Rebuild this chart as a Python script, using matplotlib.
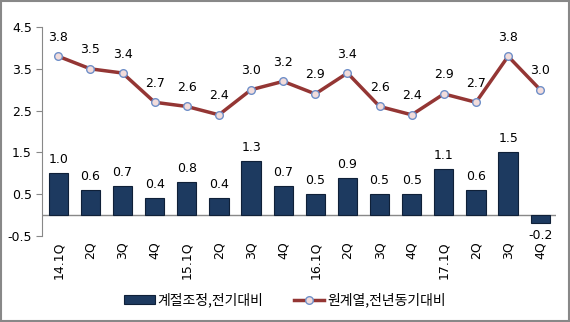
import matplotlib.pyplot as plt
import numpy as np

plt.rcParams['font.family'] = ['Noto Sans CJK KR', 'DejaVu Sans']

quarters = ['14.1Q', '2Q', '3Q', '4Q', '15.1Q', '2Q', '3Q', '4Q',
            '16.1Q', '2Q', '3Q', '4Q', '17.1Q', '2Q', '3Q', '4Q']
qoq = [1.0, 0.6, 0.7, 0.4, 0.8, 0.4, 1.3, 0.7,
       0.5, 0.9, 0.5, 0.5, 1.1, 0.6, 1.5, -0.2]
yoy = [3.8, 3.5, 3.4, 2.7, 2.6, 2.4, 3.0, 3.2,
       2.9, 3.4, 2.6, 2.4, 2.9, 2.7, 3.8, 3.0]
yticks = [-0.5, 0.5, 1.5, 2.5, 3.5, 4.5]

fig = plt.figure(figsize=(5.70, 3.22), dpi=100)
ax = fig.add_axes([0.074, 0.267, 0.902, 0.649])
x = np.arange(len(quarters))

bars = ax.bar(x, qoq, width=0.6, color='#1d3a60', edgecolor='#0f2038',
              linewidth=0.8, label='계절조정,전기대비', zorder=2)
line, = ax.plot(x, yoy, color='#943634', linewidth=2.5, marker='o', markersize=5.5,
                markerfacecolor='#f2dcdb', markeredgecolor='#6f8fc8',
                markeredgewidth=1.0, label='원계열,전년동기대비', zorder=3)

for xi, v in zip(x, qoq):
    if v >= 0:
        ax.annotate(f'{v:.1f}', (xi, v), xytext=(0, 5), textcoords='offset points',
                    ha='center', va='bottom', fontsize=9, family='DejaVu Sans')
    else:
        ax.annotate(f'{v:.1f}', (xi, v), xytext=(0, -4), textcoords='offset points',
                    ha='center', va='top', fontsize=9, family='DejaVu Sans')
for xi, v in zip(x, yoy):
    ax.annotate(f'{v:.1f}', (xi, v), xytext=(0, 9), textcoords='offset points',
                ha='center', va='bottom', fontsize=9, family='DejaVu Sans')

ax.set_xlim(-0.5, len(quarters) - 0.5)
ax.set_ylim(-0.5, 4.5)
ax.set_yticks(yticks)
ax.set_yticklabels([f'{t:.1f}' for t in yticks], fontsize=9, family='DejaVu Sans')
ax.set_xticks(x)
ax.set_xticklabels(quarters, rotation=90, fontsize=9, family='DejaVu Sans')
ax.tick_params(axis='x', length=0, pad=4)
ax.tick_params(axis='y', length=4, color='#888888')
ax.axhline(0, color='#888888', linewidth=1, zorder=1)
for s in ['top', 'right', 'bottom']:
    ax.spines[s].set_visible(False)
ax.spines['left'].set_color('#888888')

fig.legend(handles=[bars, line], loc='center', bbox_to_anchor=(0.5, 0.068), ncol=2,
           frameon=False, fontsize=10, handlelength=2.2, handletextpad=0.2,
           columnspacing=2.2)

border = plt.Rectangle((0.002, 0.003), 0.996, 0.994, transform=fig.transFigure,
                       fill=False, edgecolor='#888888', linewidth=1.5)
fig.patches.append(border)

fig.savefig('out.png', dpi=100)
